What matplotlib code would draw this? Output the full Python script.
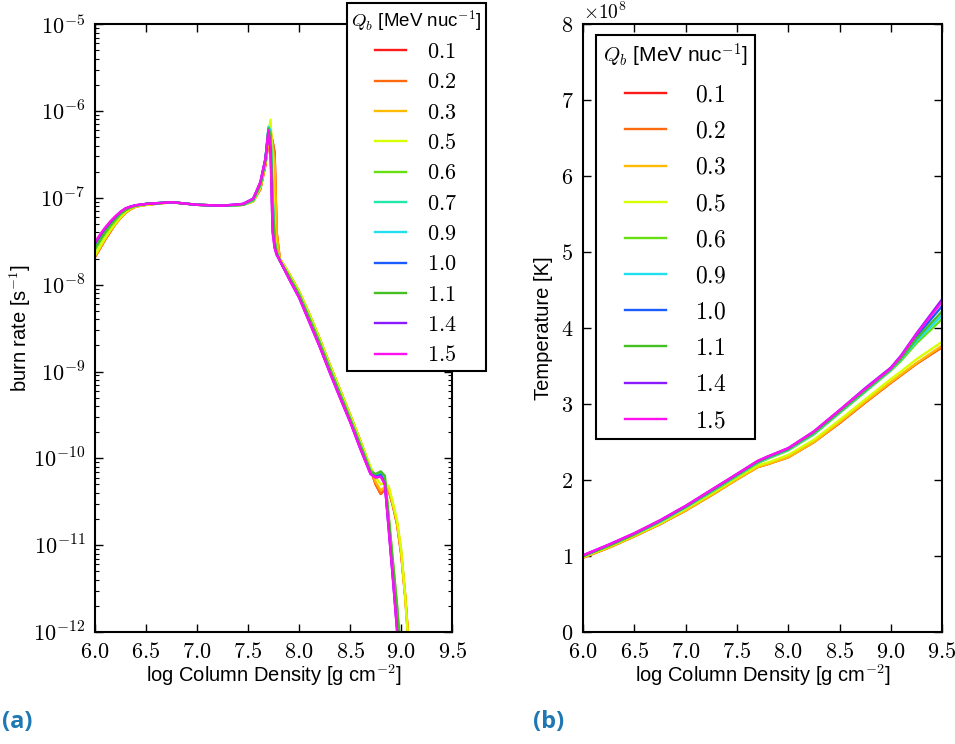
import numpy as np
import matplotlib
matplotlib.use('Agg')
import matplotlib.pyplot as plt
from matplotlib.ticker import FuncFormatter, MultipleLocator, LogLocator

plt.rcParams['font.family'] = ['Liberation Sans', 'DejaVu Sans']
plt.rcParams['mathtext.fontset'] = 'cm'
plt.rcParams['xtick.direction'] = 'in'
plt.rcParams['ytick.direction'] = 'in'
plt.rcParams['xtick.top'] = True
plt.rcParams['ytick.right'] = True
plt.rcParams['axes.linewidth'] = 1.5

# legend labels and colours
q_labels = ['0.1', '0.2', '0.3', '0.5', '0.6', '0.7', '0.9', '1.0', '1.1', '1.4', '1.5']
q_colors = ['#ff1a1a', '#ff6a10', '#ffbb00', '#d8ff00', '#66e010', '#20e8a8',
            '#20e0f0', '#1a5cff', '#44c022', '#8a1aff', '#ff10f0']

# ---- (a) burn rate, log10 [s^-1] ----
x_burn = [6.0, 6.05, 6.1, 6.15, 6.2, 6.25, 6.3, 6.35, 6.4, 6.5, 6.75, 7.0, 7.25, 7.45, 7.55,
          7.62, 7.67, 7.70, 7.72, 7.74, 7.76, 7.78, 7.81, 7.9, 8.0, 8.1, 8.2, 8.3, 8.4, 8.5,
          8.6, 8.7, 8.75, 8.8, 8.84, 8.88, 8.92, 8.96, 9.0, 9.04, 9.08, 9.12]

rate_01 = [-7.68, -7.58, -7.48, -7.39, -7.30, -7.23, -7.17, -7.13, -7.10, -7.08, -7.05, -7.08, -7.09, -7.08, -7.04,
           -6.90, -6.62, -6.35, -6.25, -6.35, -6.48, -7.40, -7.70, -7.87, -8.08, -8.34, -8.62, -8.92, -9.21, -9.50,
           -9.80, -10.12, -10.30, -10.41, -10.36, -10.38, -10.55, -10.76, -11.10, -11.60, -12.25, -12.90]
rate_02 = [-7.68, -7.58, -7.48, -7.39, -7.30, -7.23, -7.17, -7.13, -7.10, -7.08, -7.05, -7.08, -7.09, -7.08, -7.04,
           -6.90, -6.62, -6.35, -6.25, -6.35, -6.48, -7.40, -7.70, -7.87, -8.08, -8.34, -8.62, -8.92, -9.21, -9.50,
           -9.80, -10.12, -10.30, -10.41, -10.36, -10.38, -10.55, -10.76, -11.10, -11.60, -12.25, -12.90]
rate_03 = [-7.67, -7.57, -7.47, -7.38, -7.30, -7.23, -7.17, -7.13, -7.10, -7.08, -7.05, -7.08, -7.09, -7.08, -7.04,
           -6.89, -6.60, -6.30, -6.20, -6.40, -6.60, -7.42, -7.70, -7.87, -8.08, -8.34, -8.62, -8.92, -9.21, -9.50,
           -9.80, -10.11, -10.27, -10.37, -10.33, -10.36, -10.53, -10.74, -11.07, -11.58, -12.22, -12.88]
rate_05 = [-7.66, -7.56, -7.46, -7.37, -7.29, -7.22, -7.16, -7.12, -7.10, -7.08, -7.05, -7.08, -7.09, -7.08, -7.04,
           -6.88, -6.58, -6.25, -6.10, -6.60, -7.40, -7.62, -7.70, -7.87, -8.08, -8.34, -8.62, -8.92, -9.21, -9.50,
           -9.80, -10.10, -10.22, -10.30, -10.28, -10.33, -10.52, -10.72, -11.05, -11.60, -12.30, -12.95]
rate_06 = [-7.60, -7.50, -7.41, -7.33, -7.26, -7.19, -7.14, -7.11, -7.09, -7.07, -7.05, -7.08, -7.09, -7.08, -7.03,
           -6.86, -6.57, -6.22, -6.30, -7.05, -7.50, -7.63, -7.72, -7.90, -8.11, -8.38, -8.66, -8.96, -9.25, -9.54,
           -9.84, -10.14, -10.19, -10.16, -10.22, -10.70, -11.20, -11.70, -12.30, -12.90, -13.50, -14.10]
rate_07 = [-7.57, -7.47, -7.39, -7.31, -7.24, -7.18, -7.14, -7.11, -7.09, -7.07, -7.05, -7.08, -7.09, -7.08, -7.03,
           -6.85, -6.56, -6.20, -6.25, -7.00, -7.50, -7.63, -7.72, -7.91, -8.12, -8.39, -8.67, -8.97, -9.26, -9.55,
           -9.85, -10.15, -10.20, -10.18, -10.26, -10.75, -11.30, -11.85, -12.40, -13.00, -13.60, -14.20]
rate_09 = [-7.56, -7.46, -7.38, -7.30, -7.23, -7.18, -7.13, -7.10, -7.09, -7.07, -7.05, -7.08, -7.09, -7.08, -7.02,
           -6.84, -6.55, -6.18, -6.22, -6.95, -7.50, -7.63, -7.72, -7.91, -8.12, -8.39, -8.67, -8.97, -9.26, -9.55,
           -9.85, -10.15, -10.20, -10.19, -10.27, -10.78, -11.33, -11.88, -12.45, -13.05, -13.65, -14.25]
rate_10 = [-7.53, -7.44, -7.36, -7.28, -7.22, -7.17, -7.13, -7.10, -7.085, -7.07, -7.05, -7.08, -7.09, -7.07, -7.01,
           -6.83, -6.55, -6.21, -6.40, -7.30, -7.56, -7.65, -7.72, -7.92, -8.14, -8.42, -8.70, -9.00, -9.29, -9.57,
           -9.88, -10.17, -10.21, -10.19, -10.28, -10.82, -11.38, -11.95, -12.55, -13.15, -13.75, -14.35]
rate_11 = [-7.58, -7.48, -7.39, -7.31, -7.24, -7.18, -7.14, -7.11, -7.09, -7.07, -7.05, -7.08, -7.09, -7.08, -7.02,
           -6.85, -6.56, -6.20, -6.28, -7.00, -7.50, -7.63, -7.72, -7.90, -8.12, -8.39, -8.67, -8.97, -9.26, -9.55,
           -9.85, -10.15, -10.18, -10.15, -10.20, -10.70, -11.20, -11.70, -12.30, -12.90, -13.50, -14.10]
rate_14 = [-7.52, -7.43, -7.35, -7.28, -7.22, -7.16, -7.12, -7.10, -7.085, -7.07, -7.05, -7.08, -7.09, -7.07, -7.01,
           -6.82, -6.55, -6.24, -6.45, -7.38, -7.57, -7.65, -7.72, -7.93, -8.15, -8.43, -8.71, -9.01, -9.30, -9.58,
           -9.89, -10.18, -10.22, -10.21, -10.29, -10.84, -11.40, -11.98, -12.58, -13.18, -13.78, -14.38]
rate_15 = [-7.51, -7.42, -7.34, -7.27, -7.21, -7.16, -7.12, -7.10, -7.085, -7.07, -7.05, -7.08, -7.09, -7.07, -7.01,
           -6.82, -6.55, -6.22, -6.45, -7.40, -7.58, -7.66, -7.72, -7.93, -8.15, -8.43, -8.71, -9.01, -9.30, -9.58,
           -9.89, -10.18, -10.22, -10.21, -10.30, -10.85, -11.40, -12.00, -12.60, -13.20, -13.80, -14.40]

rates = [rate_01, rate_02, rate_03, rate_05, rate_06, rate_07, rate_09, rate_10, rate_11, rate_14, rate_15]

# ---- (b) temperature [10^8 K] ----
x_temp = [6.0, 6.25, 6.5, 6.75, 7.0, 7.25, 7.5, 7.7, 7.8, 8.0, 8.25, 8.5, 8.75, 9.0, 9.1, 9.25, 9.5]

temp_01 = [0.98, 1.11, 1.26, 1.42, 1.60, 1.80, 2.01, 2.17, 2.21, 2.30, 2.50, 2.75, 3.02, 3.28, 3.38, 3.53, 3.75]
temp_02 = [0.98, 1.11, 1.26, 1.42, 1.60, 1.80, 2.01, 2.17, 2.21, 2.30, 2.50, 2.75, 3.02, 3.28, 3.38, 3.53, 3.75]
temp_03 = [0.98, 1.11, 1.26, 1.42, 1.60, 1.80, 2.01, 2.17, 2.21, 2.30, 2.50, 2.76, 3.03, 3.29, 3.39, 3.54, 3.77]
temp_05 = [0.99, 1.12, 1.27, 1.43, 1.62, 1.82, 2.03, 2.19, 2.23, 2.33, 2.53, 2.79, 3.06, 3.33, 3.43, 3.59, 3.82]
temp_06 = [1.00, 1.13, 1.28, 1.45, 1.64, 1.84, 2.05, 2.22, 2.28, 2.39, 2.60, 2.88, 3.16, 3.44, 3.57, 3.80, 4.12]
temp_09 = [1.00, 1.14, 1.29, 1.45, 1.64, 1.85, 2.06, 2.23, 2.29, 2.40, 2.61, 2.89, 3.17, 3.45, 3.59, 3.83, 4.17]
temp_10 = [1.00, 1.14, 1.29, 1.46, 1.65, 1.86, 2.07, 2.24, 2.30, 2.41, 2.63, 2.91, 3.19, 3.47, 3.62, 3.89, 4.29]
temp_11 = [1.00, 1.14, 1.29, 1.46, 1.65, 1.86, 2.07, 2.24, 2.30, 2.41, 2.62, 2.90, 3.18, 3.46, 3.60, 3.86, 4.22]
temp_14 = [1.01, 1.15, 1.30, 1.47, 1.66, 1.87, 2.08, 2.25, 2.31, 2.42, 2.64, 2.92, 3.21, 3.48, 3.64, 3.93, 4.38]
temp_15 = [1.01, 1.15, 1.30, 1.47, 1.66, 1.87, 2.08, 2.25, 2.31, 2.42, 2.64, 2.92, 3.20, 3.47, 3.63, 3.92, 4.35]

temps = [temp_01, temp_02, temp_03, temp_05, temp_06, temp_09, temp_10, temp_11, temp_14, temp_15]
temp_labels = ['0.1', '0.2', '0.3', '0.5', '0.6', '0.9', '1.0', '1.1', '1.4', '1.5']
temp_colors = ['#ff1a1a', '#ff6a10', '#ffbb00', '#d8ff00', '#66e010', '#20e0f0',
               '#1a5cff', '#44c022', '#8a1aff', '#ff10f0']

legend_title = r'$Q_b$ [MeV nuc$^{\mathsf{-1}}$]'
xlab = r'log Column Density [g cm$^{\mathsf{-2}}$]'

fig = plt.figure(figsize=(9.55, 7.44), dpi=100)
ax1 = fig.add_axes([0.0995, 0.1505, 0.374, 0.817])
ax2 = fig.add_axes([0.6105, 0.1505, 0.376, 0.817])

for lab, col, r in zip(q_labels, q_colors, rates):
    ax1.plot(x_burn, 10.0 ** np.array(r), color=col, lw=1.7, label='$' + lab + '$')
ax1.set_yscale('log')
ax1.set_xlim(6.0, 9.5)
ax1.set_ylim(1e-12, 1e-5)
ax1.xaxis.set_major_locator(MultipleLocator(0.5))
ax1.yaxis.set_major_locator(LogLocator(base=10, numticks=20))
ax1.yaxis.set_minor_locator(LogLocator(base=10, subs=np.arange(2, 10), numticks=20))
ax1.xaxis.set_major_formatter(FuncFormatter(lambda v, p: r'$%.1f$' % v))
ax1.yaxis.set_major_formatter(FuncFormatter(lambda v, p: r'$10^{%d}$' % round(np.log10(v))))
ax1.set_xlabel(xlab, fontsize=14.5, labelpad=0)
ax1.set_ylabel(r'burn rate [s$^{\mathsf{-1}}$]', fontsize=14.5)
ax1.yaxis.set_label_coords(-0.175, 0.5)
leg1 = ax1.legend(loc='upper right', bbox_to_anchor=(1.095, 1.0345), borderaxespad=0,
                  title=legend_title, fontsize=16, title_fontsize=13.5, handlelength=1.4,
                  handletextpad=0.95, labelspacing=0.42, borderpad=0.2, fancybox=False,
                  framealpha=1, edgecolor='k')
leg1.get_frame().set_linewidth(1.5)

for lab, col, t in zip(temp_labels, temp_colors, temps):
    ax2.plot(x_temp, t, color=col, lw=1.7, label='$' + lab + '$')
ax2.set_xlim(6.0, 9.5)
ax2.set_ylim(0, 8)
ax2.xaxis.set_major_locator(MultipleLocator(0.5))
ax2.yaxis.set_major_locator(MultipleLocator(1))
ax2.xaxis.set_major_formatter(FuncFormatter(lambda v, p: r'$%.1f$' % v))
ax2.yaxis.set_major_formatter(FuncFormatter(lambda v, p: r'$%d$' % round(v)))
ax2.text(0.0, 1.002, r'$\times10^{8}$', transform=ax2.transAxes, ha='left', va='bottom',
         fontsize=14)
ax2.set_xlabel(xlab, fontsize=14.5, labelpad=0)
ax2.set_ylabel('Temperature [K]', fontsize=14.5)
ax2.yaxis.set_label_coords(-0.084, 0.5)
leg2 = ax2.legend(loc='upper left', bbox_to_anchor=(0.036, 0.982), borderaxespad=0,
                  title=legend_title, fontsize=17, title_fontsize=15, handlelength=1.75,
                  handletextpad=1.2, labelspacing=0.6, borderpad=0.3, fancybox=False,
                  framealpha=1, edgecolor='k')
leg2.get_frame().set_linewidth(1.5)

for ax in (ax1, ax2):
    ax.tick_params(which='major', length=6, width=1, labelsize=16, pad=7)
    ax.tick_params(which='minor', length=3, width=0.8)

fig.text(0.002, 0.0296, '(a)', fontsize=17, fontweight='bold', color='#1e78b4',
         family=['Open Sans', 'DejaVu Sans'], va='center', ha='left')
fig.text(0.558, 0.0296, '(b)', fontsize=17, fontweight='bold', color='#1e78b4',
         family=['Open Sans', 'DejaVu Sans'], va='center', ha='left')

fig.savefig('out.png', dpi=100)
